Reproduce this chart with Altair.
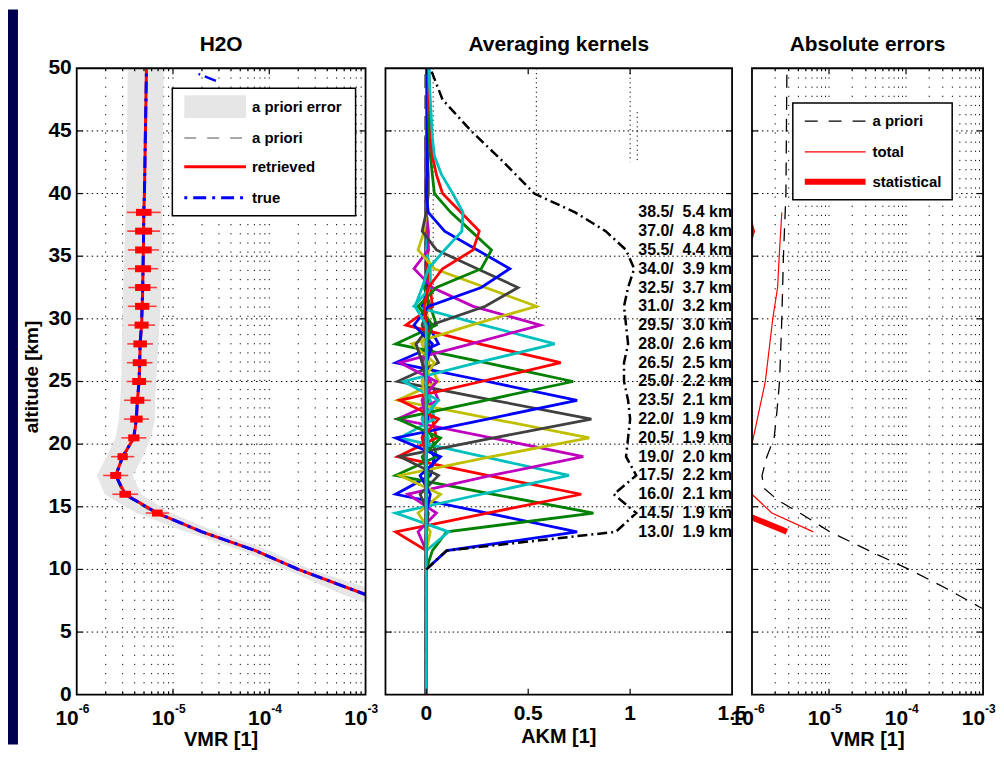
import altair as alt
import pandas as pd

FONT = "Liberation Sans"
NAVY = "#000050"
W1, W2, W3, H = 290, 348, 232, 629

# ---------------- shared ticks ----------------
alt_grid_ticks = [5, 10, 15, 20, 25, 30, 35, 40, 45]
alt_label_values = [0, 5, 10, 15, 20, 25, 30, 35, 40, 45, 50]
vmr_decades = [1e-6, 1e-5, 1e-4, 1e-3]
vmr_exponents = ["-6", "-5", "-4", "-3"]
vmr_minor = [k * 10.0 ** e for e in (-6, -5, -4) for k in range(2, 10)]
vmr_major_inner = [1e-5, 1e-4]
akm_ticks = [0, 0.5, 1, 1.5]
akm_tick_labels = ["0", "0.5", "1", "1.5"]
panel_titles = ["H2O", "Averaging kernels", "Absolute errors"]

# ---------------- panel 1: H2O profiles (ppmv) ----------------
prof_alt = [6.5, 8, 10, 11.5, 13, 14.5, 16, 17.5, 19, 20.5, 22, 23.5, 25,
            26.5, 28, 29.5, 31, 32.5, 34, 35.5, 37, 38.5, 40, 50]
retrieved_ppmv = [3300, 1000, 200, 72, 20, 6.87, 3.19, 2.54, 3.0, 3.92, 4.17, 4.27, 4.45,
                  4.51, 4.56, 4.72, 4.79, 4.85, 4.88, 4.93, 4.95, 4.97, 5.05, 5.3]
true_ppmv = [3300, 1000, 200, 72, 20, 6.8, 3.15, 2.55, 3.0, 3.9, 4.15, 4.27, 4.43,
             4.5, 4.55, 4.7, 4.78, 4.84, 4.88, 4.92, 4.95, 4.97, 5.05, 5.3]
true_top_alt = [49.55, 49.0]
true_top_ppmv = [18.4, 27.9]
band_alt = [6.5, 8, 10, 11.5, 13, 14.5, 16, 17.5, 19, 20.5, 22, 23.5, 25, 31.5, 40, 50]
band_lo_ppmv = [1930, 577, 148.5, 52.1, 13.6, 4.14, 1.95, 1.62, 2.03, 2.53, 2.74, 2.83, 2.90, 3.01, 3.27, 3.39]
band_hi_ppmv = [5800, 1725, 269, 101, 27.8, 9.53, 4.67, 3.82, 4.85, 5.92, 6.51, 6.51, 6.67, 7.51, 7.81, 8.0]
apriori_ppmv = [3346, 998, 200, 72.5, 19.4, 6.28, 3.02, 2.49, 3.14, 3.87, 4.22, 4.29, 4.40, 4.75, 5.05, 5.2]
err_alt = [14.5, 16, 17.5, 19, 20.5, 22, 23.5, 25, 26.5, 28, 29.5, 31, 32.5, 34, 35.5, 37, 38.5]
stat_err_pct = [13.5, 14.8, 14, 13, 14.3, 16, 18, 18, 18, 17.5, 18.3, 18.6, 20, 21, 22, 22.5, 20.5]
total_err_pct = [32, 36, 35, 32, 35, 35, 38, 35, 36, 36, 38, 41, 41, 44, 45, 48, 50]
legend1_labels = ["a priori error", "a priori", "retrieved", "true"]

# ---------------- panel 2: averaging kernels ----------------
ak_alt = [0, 10, 11.5, 13, 14.5, 16, 17.5, 19, 20.5, 22, 23.5, 25, 26.5, 28, 29.5,
          31, 32.5, 34, 35.5, 37, 38.5, 40, 41.5, 43, 44.5, 46, 47.5, 49, 50]
kernel_alt = [13.0, 14.5, 16.0, 17.5, 19.0, 20.5, 22.0, 23.5, 25.0, 26.5, 28.0, 29.5,
              31.0, 32.5, 34.0, 35.5, 37.0, 38.5]
kernel_resolution = [1.9, 1.9, 2.1, 2.2, 2.0, 1.9, 1.9, 2.1, 2.2, 2.5, 2.6, 3.0,
                     3.2, 3.7, 3.9, 4.4, 4.8, 5.4]
kernel_colors = ["#0000ff", "#008000", "#ff0000", "#00bfbf", "#bf00bf", "#bfbf00", "#404040"]
ak_rows = [
    # 13.0
    [0, 0, 0.10, 0.74, 0.30, -0.15, 0.02, 0.04, -0.02, 0.01, 0, 0, 0, 0, 0, 0, 0, 0, 0, 0, 0, 0, 0, 0, 0, 0.005, 0.005, 0.005, 0.005],
    # 14.5
    [0, 0, 0.03, 0.10, 0.82, 0.33, -0.15, 0.05, 0.03, -0.02, 0.01, 0, 0, 0, 0, 0, 0, 0, 0, 0, 0, 0, 0, 0, 0, 0.005, 0.005, 0.005, 0.005],
    # 16.0
    [0, 0, 0.0, -0.15, 0.30, 0.76, 0.30, -0.14, 0.05, 0.03, -0.02, 0.01, 0, 0, 0, 0, 0, 0, 0, 0, 0, 0, 0, 0, 0, 0.005, 0.005, 0.005, 0.005],
    # 17.5
    [0, 0, 0.0, 0.11, -0.15, 0.27, 0.70, 0.28, -0.13, 0.04, 0.02, -0.02, 0.01, 0, 0, 0, 0, 0, 0, 0, 0, 0, 0, 0, 0, 0.005, 0.005, 0.005, 0.005],
    # 19.0
    [0, 0, 0.0, -0.04, 0.05, -0.09, 0.32, 0.77, 0.32, -0.14, 0.06, 0.02, -0.02, 0.01, 0, 0, 0, 0, 0, 0, 0, 0, 0, 0, 0, 0.005, 0.005, 0.005, 0.005],
    # 20.5
    [0, 0, 0.0, 0.02, -0.04, 0.07, -0.13, 0.32, 0.80, 0.33, -0.14, 0.06, 0.01, -0.02, 0.01, 0, 0, 0, 0, 0, 0, 0, 0, 0, 0, 0.005, 0.005, 0.005, 0.005],
    # 22.0
    [0, 0, 0, 0, 0.01, -0.03, 0.06, -0.13, 0.33, 0.81, 0.33, -0.14, 0.06, 0.01, -0.02, 0.01, 0, 0, 0, 0, 0, 0, 0, 0, 0, 0.005, 0.005, 0.005, 0.005],
    # 23.5
    [0, 0, 0, 0, 0, 0.02, -0.03, 0.07, -0.15, 0.30, 0.74, 0.30, -0.15, 0.06, 0.01, -0.02, 0.01, 0, 0, 0, 0, 0, 0, 0, 0, 0.005, 0.005, 0.005, 0.005],
    # 25.0
    [0, 0, 0, 0, 0, 0, 0.01, -0.02, 0.07, -0.14, 0.29, 0.72, 0.29, -0.15, 0.05, 0.02, -0.01, 0.01, 0, 0, 0, 0, 0, 0, 0, 0.005, 0.005, 0.005, 0.005],
    # 26.5
    [0, 0, 0, 0, 0, 0, 0, 0.0, -0.02, 0.06, -0.13, 0.27, 0.66, 0.26, -0.10, 0.03, 0.02, 0.0, 0.01, 0, 0, 0, 0, 0, 0, 0.005, 0.005, 0.005, 0.005],
    # 28.0
    [0, 0, 0, 0, 0, 0, 0, 0, 0.01, -0.02, 0.06, -0.11, 0.25, 0.63, 0.28, -0.06, 0.02, 0.02, 0.0, 0.01, 0, 0, 0, 0, 0, 0.005, 0.005, 0.005, 0.005],
    # 29.5
    [0, 0, 0, 0, 0, 0, 0, 0, 0, 0.0, -0.02, 0.05, -0.13, 0.22, 0.56, 0.23, 0.03, -0.06, 0.01, 0.01, 0.0, 0, 0, 0, 0, 0.005, 0.005, 0.005, 0.005],
    # 31.0
    [0, 0, 0, 0, 0, 0, 0, 0, 0, 0, 0.0, -0.02, 0.04, -0.07, 0.22, 0.54, 0.29, 0.04, -0.04, -0.01, 0.0, 0.01, 0.005, 0.005, 0.005, 0.005, 0.005, 0.005, 0.005],
    # 32.5
    [0, 0, 0, 0, 0, 0, 0, 0, 0, 0, 0, 0.0, -0.02, -0.05, 0.02, 0.29, 0.45, 0.25, 0.05, -0.02, 0.0, 0.01, 0.01, 0.005, 0.005, 0.005, 0.005, 0.005, 0.005],
    # 34.0
    [0, 0, 0, 0, 0, 0, 0, 0, 0, 0, 0, 0, 0.0, 0.03, -0.06, 0.01, 0.27, 0.41, 0.25, 0.09, 0.01, 0.0, 0.005, 0.005, 0.005, 0.005, 0.005, 0.005, 0.005],
    # 35.5
    [0, 0, 0, 0, 0, 0, 0, 0, 0, 0, 0, 0, 0, 0.0, 0.03, -0.04, 0.05, 0.27, 0.32, 0.22, 0.12, 0.04, 0.03, 0.02, 0.015, 0.012, 0.01, 0.01, 0.01],
    # 37.0
    [0, 0, 0, 0, 0, 0, 0, 0, 0, 0, 0, 0, 0, 0.0, 0.0, -0.01, 0.01, 0.08, 0.23, 0.26, 0.17, 0.08, 0.05, 0.03, 0.02, 0.02, 0.015, 0.015, 0.012],
    # 38.5
    [0, 0, 0, 0, 0, 0, 0, 0, 0, 0, 0, 0, 0, 0.0, 0.0, -0.055, -0.02, 0.01, 0.09, 0.175, 0.18, 0.13, 0.075, 0.04, 0.03, 0.025, 0.02, 0.015, 0.015],
]
resp_alt = [10, 11.5, 13, 14.5, 16, 17.5, 19, 20.5, 22, 23.5, 25, 26.5, 28, 29.5, 31,
            32.5, 34, 35.5, 37, 38.5, 40, 42.5, 45, 47.5, 50]
resp_value = [0.0, 0.10, 0.93, 1.03, 0.92, 1.03, 0.98, 0.99, 1.0, 0.99, 0.97, 0.97, 0.99, 0.98, 0.97,
              0.99, 1.02, 0.98, 0.88, 0.73, 0.53, 0.38, 0.22, 0.08, 0.02]
zero_alt = [0, 50]
zero_value = [0, 0]
kernel_label_x = 1.04
# stray dotted guide lines seen in the upper part of the kernel panel
stray_x = [0.034, 0.54, 1.0, 1.035]
stray_top = [50, 50, 50, 46.5]
stray_bottom = [30, 30, 42.5, 42.5]

# ---------------- panel 3: absolute errors (ppmv) ----------------
aperr_alt = [6, 7, 8.5, 10, 11.5, 13, 14.5, 15.5, 16.5, 17.5, 19, 20.5, 22.5, 25, 30, 35, 40, 50]
aperr_ppmv = [2000, 900, 330, 110, 33, 10.3, 4.2, 2.2, 1.42, 1.35, 1.56, 1.94, 2.1, 2.28, 2.44, 2.56, 2.76, 2.84]
total_alt = [13, 14.5, 16, 17.5, 19, 20, 22.5, 25, 30, 32.5, 35.5, 38.5]
total_ppmv = [6.27, 1.81, 1.0, 0.7, 0.8, 1.0, 1.22, 1.49, 1.86, 2.15, 2.28, 2.44]
stat_alt = [13, 14.5, 16, 17.5, 19, 20.5, 22, 23.5, 25, 26.5, 28, 29.5, 31, 32.5, 34, 35.5, 37, 38.5]
stat_ppmv = [2.84, 0.73, 0.45, 0.4, 0.42, 0.5, 0.55, 0.6, 0.62, 0.65, 0.68, 0.7, 0.72, 0.75, 0.78, 0.85, 1.0, 0.85]
legend3_labels = ["a priori", "total", "statistical"]

# ---------------- helpers ----------------
yS = alt.Scale(domain=[0, 50], nice=False, zero=False)
logS = alt.Scale(type="log", domain=[1e-6, 1e-3], nice=False)
akS = alt.Scale(domain=[-0.2, 1.5], nice=False, zero=False)
one = pd.DataFrame({"d": [0]})


def Y(field="a"):
    return alt.Y(f"{field}:Q", scale=yS, axis=None)


def X(scale, field="v"):
    return alt.X(f"{field}:Q", scale=scale, axis=None)


def hgrid(width, dash):
    df = pd.DataFrame({"a": alt_grid_ticks})
    return alt.Chart(df).mark_rule(color="black", strokeWidth=1, strokeDash=dash).encode(
        y=Y(), x=alt.value(0), x2=alt.value(width))


def vgrid(values, scale, dash):
    df = pd.DataFrame({"v": values})
    return alt.Chart(df).mark_rule(color="black", strokeWidth=1, strokeDash=dash).encode(
        x=X(scale), y=alt.value(0), y2=alt.value(H))


def yticks(width, L=6):
    df = pd.DataFrame({"a": alt_grid_ticks})
    left = alt.Chart(df).mark_rule(color="black", strokeWidth=1.2).encode(
        y=Y(), x=alt.value(0), x2=alt.value(L))
    right = alt.Chart(df).mark_rule(color="black", strokeWidth=1.2).encode(
        y=Y(), x=alt.value(width - L), x2=alt.value(width))
    return left + right


def xticks(values, scale, L):
    df = pd.DataFrame({"v": values})
    bottom = alt.Chart(df).mark_rule(color="black", strokeWidth=1.2).encode(
        x=X(scale), y=alt.value(H - L), y2=alt.value(H))
    top = alt.Chart(df).mark_rule(color="black", strokeWidth=1.2).encode(
        x=X(scale), y=alt.value(0), y2=alt.value(L))
    return bottom + top


def frame(width):
    return alt.Chart(one).mark_rect(fill=None, stroke="black", strokeWidth=1.8).encode(
        x=alt.value(0), x2=alt.value(width), y=alt.value(0), y2=alt.value(H))


def label_text(text, x, y, size, align="center", baseline="alphabetic", angle=0):
    return alt.Chart(pd.DataFrame({"t": [text]})).mark_text(
        font=FONT, fontSize=size, fontWeight="bold", color="black", align=align,
        baseline=baseline, angle=angle).encode(x=alt.value(x), y=alt.value(y), text="t:N")


def log_labels():
    df = pd.DataFrame({"v": vmr_decades, "e": vmr_exponents, "b": ["10"] * 4})
    base = alt.Chart(df).mark_text(font=FONT, fontSize=21, fontWeight="bold", color="black",
                                   align="right", baseline="alphabetic", dx=2).encode(
        x=X(logS), y=alt.value(H + 30), text="b:N")
    exp = alt.Chart(df).mark_text(font=FONT, fontSize=12, fontWeight="bold", color="black",
                                  align="left", baseline="alphabetic", dx=2).encode(
        x=X(logS), y=alt.value(H + 18), text="e:N")
    return base + exp


def panel_title(t, width):
    return label_text(t, width / 2, -17, 21)


# ---------------- panel 1 ----------------
ppm = 1e-6
prof_df = pd.DataFrame({"a": prof_alt, "ret": [v * ppm for v in retrieved_ppmv],
                        "tru": [v * ppm for v in true_ppmv]})
band_df = pd.DataFrame({"a": band_alt, "lo": [v * ppm for v in band_lo_ppmv],
                        "hi": [v * ppm for v in band_hi_ppmv], "ap": [v * ppm for v in apriori_ppmv]})
ret_at = dict(zip(prof_alt, retrieved_ppmv))
err_df = pd.DataFrame({
    "a": err_alt,
    "slo": [ret_at[a] * ppm / (1 + s / 100) for a, s in zip(err_alt, stat_err_pct)],
    "shi": [ret_at[a] * ppm * (1 + s / 100) for a, s in zip(err_alt, stat_err_pct)],
    "tlo": [ret_at[a] * ppm / (1 + s / 100) for a, s in zip(err_alt, total_err_pct)],
    "thi": [ret_at[a] * ppm * (1 + s / 100) for a, s in zip(err_alt, total_err_pct)],
})
true_top_df = pd.DataFrame({"a": true_top_alt, "tru": [v * ppm for v in true_top_ppmv]})

navy = alt.Chart(one).mark_rect(color=NAVY).encode(
    x=alt.value(-69), x2=alt.value(-59), y=alt.value(-59), y2=alt.value(679))
band = alt.Chart(band_df).mark_area(orient="horizontal", color="#e6e6e6", clip=True).encode(
    y=Y(), x=X(logS, "lo"), x2="hi:Q")
apriori_line = alt.Chart(band_df).mark_line(color="#555555", strokeWidth=1, strokeDash=[10, 8], clip=True).encode(
    y=Y(), x=X(logS, "ap"), order="a:Q")
ret_line = alt.Chart(prof_df).mark_line(color="#ff0000", strokeWidth=3, clip=True).encode(
    y=Y(), x=X(logS, "ret"), order="a:Q")
true_line = alt.Chart(prof_df).mark_line(color="#0000ff", strokeWidth=3, strokeDash=[12, 5, 3, 5], clip=True).encode(
    y=Y(), x=X(logS, "tru"), order="a:Q")
true_top = alt.Chart(true_top_df).mark_line(color="#0000ff", strokeWidth=2.5, strokeDash=[12, 5, 3, 5], clip=True).encode(
    y=Y(), x=X(logS, "tru"), order="a:Q")
err_thin = alt.Chart(err_df).mark_rule(color="#ff2020", strokeWidth=1.6, opacity=0.85).encode(
    y=Y(), x=X(logS, "tlo"), x2="thi:Q")
err_thick = alt.Chart(err_df).mark_rule(color="#ff0000", strokeWidth=7).encode(
    y=Y(), x=X(logS, "slo"), x2="shi:Q")

# legend 1
leg1_box = alt.Chart(one).mark_rect(fill="white", stroke="black", strokeWidth=1.5).encode(
    x=alt.value(96), x2=alt.value(280), y=alt.value(20), y2=alt.value(148))
leg1_patch = alt.Chart(one).mark_rect(color="#e6e6e6").encode(
    x=alt.value(108), x2=alt.value(170), y=alt.value(27), y2=alt.value(50))
leg1_ap = alt.Chart(one).mark_rule(color="#555555", strokeWidth=1.2, strokeDash=[12, 11]).encode(
    x=alt.value(108), x2=alt.value(170), y=alt.value(70))
leg1_ret = alt.Chart(one).mark_rule(color="#ff0000", strokeWidth=3).encode(
    x=alt.value(108), x2=alt.value(170), y=alt.value(99))
leg1_true = alt.Chart(one).mark_rule(color="#0000ff", strokeWidth=3, strokeDash=[3, 6, 13, 6]).encode(
    x=alt.value(108), x2=alt.value(170), y=alt.value(130))
leg1_txt = alt.Chart(pd.DataFrame({"t": legend1_labels, "y": [39, 70, 99, 130]})).mark_text(
    font=FONT, fontSize=15, fontWeight="bold", color="black", align="left", baseline="middle").encode(
    x=alt.value(176), y=alt.Y("y:Q", scale=None, axis=None), text="t:N")

ylab_df = pd.DataFrame({"a": alt_label_values, "t": [str(v) for v in alt_label_values]})
ylabels = alt.Chart(ylab_df).mark_text(font=FONT, fontSize=21, fontWeight="bold", color="black",
                                       align="right", baseline="middle").encode(
    y=Y(), x=alt.value(-5), text="t:N")

p1 = alt.layer(
    navy,
    hgrid(W1, [1.5, 3.5]),
    vgrid(vmr_minor + vmr_major_inner, logS, [1.2, 8]),
    band, apriori_line, ret_line, true_line, true_top, err_thin, err_thick,
    leg1_box, leg1_patch, leg1_ap, leg1_ret, leg1_true, leg1_txt,
    yticks(W1), xticks(vmr_major_inner, logS, 6), xticks(vmr_minor, logS, 3),
    frame(W1), ylabels, log_labels(),
    label_text("VMR [1]", W1 / 2, H + 51, 20),
    label_text("altitude [km]", -39, 310, 19, angle=270),
    panel_title(panel_titles[0], W1),
).properties(width=W1, height=H)

# ---------------- panel 2 ----------------
stray_df = pd.DataFrame({"v": stray_x, "a": stray_top, "a2": stray_bottom})
layers2 = [hgrid(W2, [1.5, 3]),
           alt.Chart(stray_df).mark_rule(color="black", strokeWidth=1, strokeDash=[1.2, 3.5]).encode(
               x=X(akS), y=Y(), y2="a2:Q"),
           alt.Chart(pd.DataFrame({"a": zero_alt, "v": zero_value})).mark_line(
               color="black", strokeWidth=3.5, strokeDash=[14, 7], clip=True).encode(
               y=Y(), x=X(akS), order="a:Q")]
for i, row in enumerate(ak_rows):
    df = pd.DataFrame({"a": ak_alt, "v": row})
    layers2.append(alt.Chart(df).mark_line(color=kernel_colors[i % 7], strokeWidth=2.8, clip=True).encode(
        y=Y(), x=X(akS), order="a:Q"))
layers2.append(alt.Chart(pd.DataFrame({"a": resp_alt, "v": resp_value})).mark_line(
    color="black", strokeWidth=2.5, strokeDash=[10, 4, 2, 4], clip=True).encode(
    y=Y(), x=X(akS), order="a:Q"))
klab_df = pd.DataFrame({
    "a": kernel_alt,
    "v": [kernel_label_x] * len(kernel_alt),
    "t": [f"{a:.1f}/\u00a0 {r:.1f} km" for a, r in zip(kernel_alt, kernel_resolution)],
})
layers2.append(alt.Chart(klab_df).mark_text(font=FONT, fontSize=16, fontWeight="bold", color="black",
                                            align="left", baseline="middle", clip=True).encode(
    y=Y(), x=X(akS), text="t:N"))
layers2 += [yticks(W2), xticks([0, 0.5, 1], akS, 6), frame(W2)]
layers2.append(alt.Chart(pd.DataFrame({"v": akm_ticks, "t": akm_tick_labels})).mark_text(
    font=FONT, fontSize=21, fontWeight="bold", color="black", align="center", baseline="alphabetic").encode(
    x=X(akS), y=alt.value(H + 25), text="t:N"))
layers2.append(label_text("AKM [1]", W2 / 2, H + 48, 20))
layers2.append(panel_title(panel_titles[1], W2))
p2 = alt.layer(*layers2).properties(width=W2, height=H)

# ---------------- panel 3 ----------------
aperr_df = pd.DataFrame({"a": aperr_alt, "v": [v * ppm for v in aperr_ppmv]})
total_df = pd.DataFrame({"a": total_alt, "v": [v * ppm for v in total_ppmv]})
stat_df = pd.DataFrame({"a": stat_alt, "v": [v * ppm for v in stat_ppmv]})

leg3_box = alt.Chart(one).mark_rect(fill="white", stroke="black", strokeWidth=1.5).encode(
    x=alt.value(41), x2=alt.value(201), y=alt.value(35), y2=alt.value(132))
leg3_ap = alt.Chart(one).mark_rule(color="black", strokeWidth=1.2, strokeDash=[13, 11]).encode(
    x=alt.value(53), x2=alt.value(114), y=alt.value(53))
leg3_tot = alt.Chart(one).mark_rule(color="#ff0000", strokeWidth=1.2).encode(
    x=alt.value(53), x2=alt.value(114), y=alt.value(84))
leg3_stat = alt.Chart(one).mark_rule(color="#ff0000", strokeWidth=6).encode(
    x=alt.value(53), x2=alt.value(114), y=alt.value(114))
leg3_txt = alt.Chart(pd.DataFrame({"t": legend3_labels, "y": [53, 84, 114]})).mark_text(
    font=FONT, fontSize=15, fontWeight="bold", color="black", align="left", baseline="middle").encode(
    x=alt.value(121), y=alt.Y("y:Q", scale=None, axis=None), text="t:N")

p3 = alt.layer(
    hgrid(W3, [1.5, 3.5]),
    vgrid(vmr_minor + vmr_major_inner, logS, [1.2, 8]),
    alt.Chart(aperr_df).mark_line(color="black", strokeWidth=1.3, strokeDash=[13, 9], clip=True).encode(
        y=Y(), x=X(logS), order="a:Q"),
    alt.Chart(total_df).mark_line(color="#ff0000", strokeWidth=1.2, clip=True).encode(
        y=Y(), x=X(logS), order="a:Q"),
    alt.Chart(stat_df).mark_line(color="#ff0000", strokeWidth=6, strokeCap="butt", clip=True).encode(
        y=Y(), x=X(logS), order="a:Q"),
    leg3_box, leg3_ap, leg3_tot, leg3_stat, leg3_txt,
    yticks(W3), xticks(vmr_major_inner, logS, 6), xticks(vmr_minor, logS, 3),
    frame(W3), log_labels(),
    label_text("VMR [1]", W3 / 2, H + 51, 20),
    panel_title(panel_titles[2], W3),
).properties(width=W3, height=H)

chart = alt.hconcat(p1, p2, p3, spacing=20, bounds="flush").properties(
    padding={"left": 0, "top": 0, "right": 0, "bottom": 0}, background="white"
).configure_view(stroke=None)

chart.save("out.html", embed_options={"renderer": "svg", "actions": False})
